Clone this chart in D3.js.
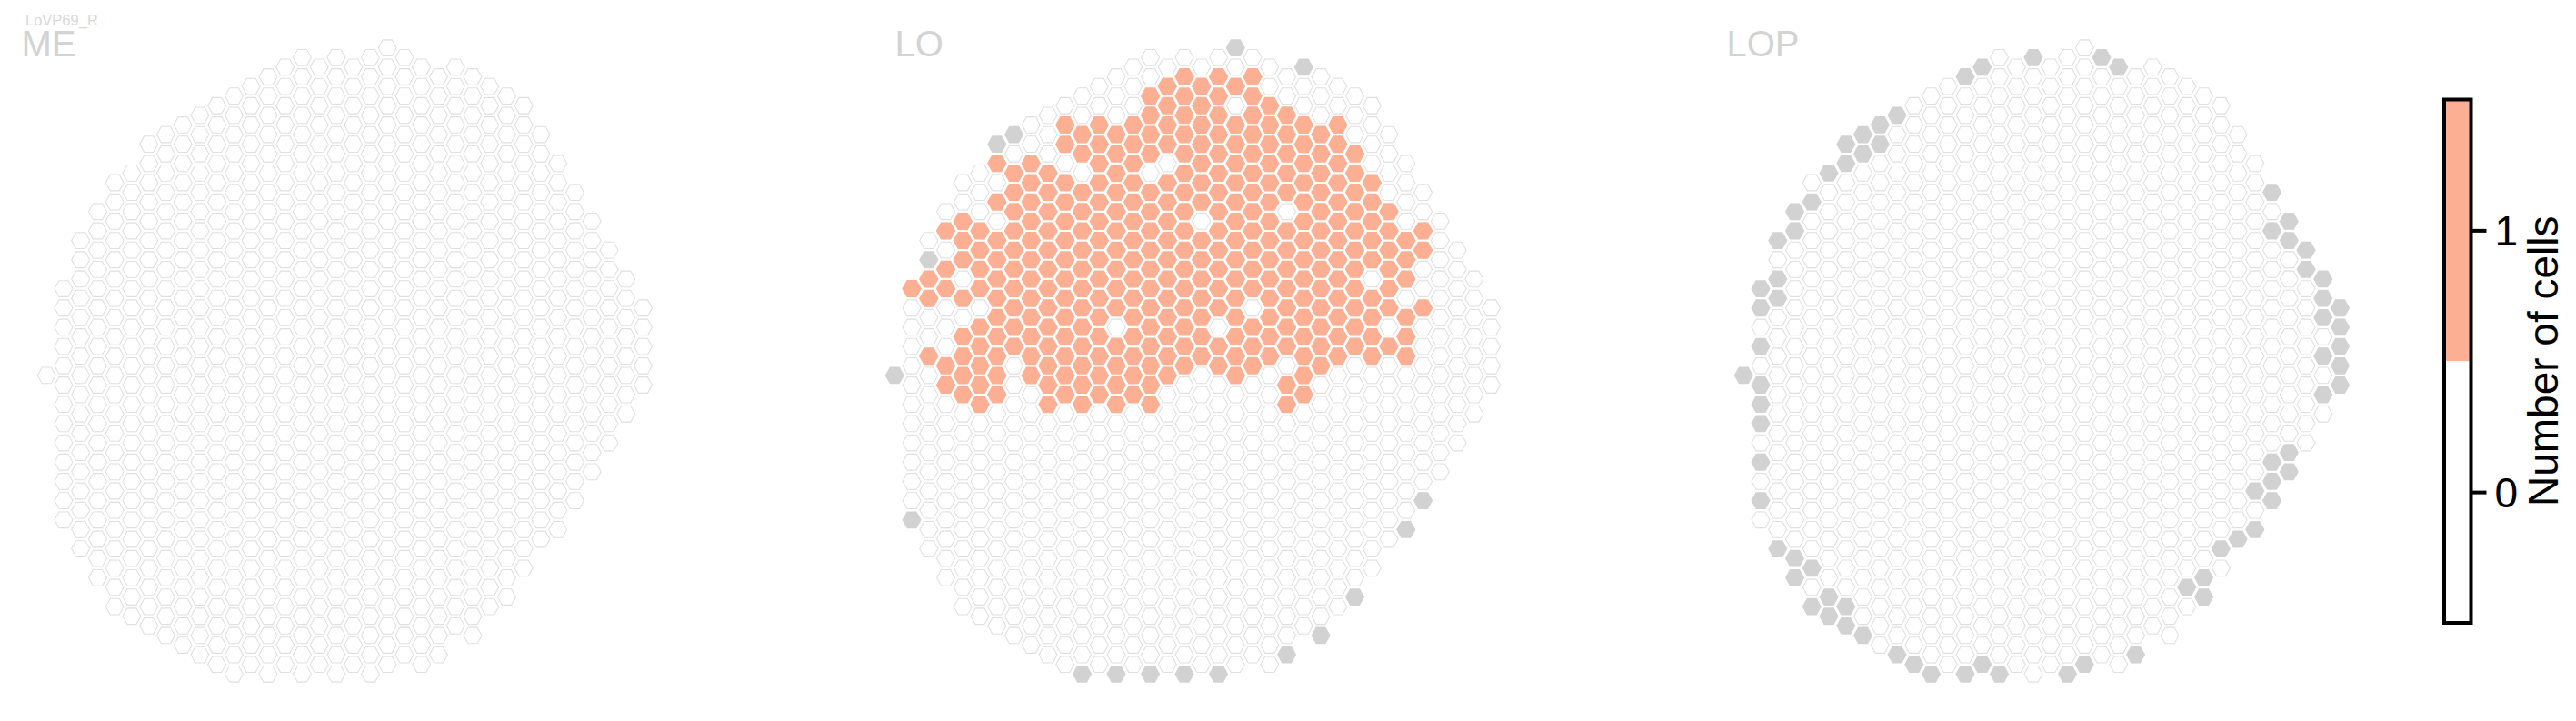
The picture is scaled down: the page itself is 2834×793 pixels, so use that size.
<!DOCTYPE html>
<html>
<head>
<meta charset="utf-8">
<script src="https://cdn.jsdelivr.net/npm/d3@7/dist/d3.min.js"></script>
<style>
html,body{margin:0;padding:0;background:#fff;}
svg{display:block;font-family:"Liberation Sans",Arial,sans-serif;}
</style>
</head>
<body>
<svg id="chart" width="2834" height="793"></svg>
<script>
// Column index 0..35; each column holds rows from top to bottom in steps of 2 half-rows
const columnTop    = [34,25,20,17,14,13,10,9,8,7,6,5,4,3,2,1,2,1,2,1,0,1,2,3,2,3,4,5,6,9,12,15,18,21,24,27];
const columnBottom = [34,49,52,55,58,59,60,61,62,63,64,65,64,65,64,65,64,65,64,65,64,63,64,63,60,61,58,57,54,51,50,47,44,41,38,35];

const panelNames = ["ME","LO","LOP"];
const neuronName = "LoVP69_R";

// LO: [column, firstRow, lastRow] with one cell counted
const loCountRuns = [
 [1,25,25],[2,24,26],[2,32,32],[3,19,19],[3,23,25],[3,33,35],[4,18,22],[4,26,26],[4,30,36],
 [5,19,25],[5,29,37],[6,12,12],[6,16,16],[6,20,36],[7,13,31],[8,12,34],[9,13,37],
 [10,8,10],[10,14,36],[11,9,11],[11,15,37],[12,8,36],[13,9,27],[13,31,37],[14,8,36],
 [15,5,11],[15,15,37],[16,4,10],[16,14,34],[17,3,33],[18,4,16],[18,20,32],[19,3,27],[19,31,33],
 [20,4,4],[20,8,34],[21,3,25],[21,29,33],[22,6,32],[23,7,15],[23,19,31],[23,35,37],[24,8,36],
 [25,9,33],[26,8,32],[27,11,31],[28,14,22],[28,26,32],[29,17,27],[29,31,31],[30,20,24],[30,28,32],
 [31,19,21],[31,27,27]
];
// Grey edge cells [column,row]
const loEdge = [[20,0],[24,2],[7,9],[6,10],[2,22],[0,34],[1,49],[31,47],[30,50],[27,57],[25,61],[23,63],
 [11,65],[13,65],[15,65],[17,65],[19,65]];
const lopEdge = [[17,1],[14,2],[13,3],[21,1],[22,2],[9,7],[8,8],[7,9],[6,10],[8,10],[7,11],[6,12],[5,13],
 [4,16],[3,17],[3,19],[2,20],[2,24],[1,25],[2,26],[1,27],[1,31],[31,15],[32,18],[31,19],[32,20],[33,21],
 [33,23],[34,24],[34,26],[35,27],[34,28],[35,29],[35,31],[34,32],[35,33],[35,35],[34,36],[0,34],[1,35],
 [1,37],[1,39],[1,43],[1,47],[32,42],[31,43],[32,44],[31,45],[30,46],[31,47],[30,50],[29,51],[28,52],
 [27,55],[26,56],[27,57],[23,63],[20,64],[19,65],[15,65],[14,64],[13,65],[11,65],[10,64],[9,63],[7,61],
 [6,60],[5,59],[6,58],[4,58],[5,57],[3,55],[4,54],[3,53],[2,52]];

const colorTicks = [0,1];
const colorTitle = "Number of cells";

const C_COUNT = "#fcaf92", C_EDGE = "#d2d2d2", C_LINE = "#e0e0e0";

const svg = d3.select("#chart");
const panelLeft = [51.2, 984.3, 1918.3];
const titleX = [23.5, 984.5, 1899.5];
const colStep = 18.75, rowStep = 10.594, R = 10.6, Ry = 9.4;
const y = d3.scaleLinear().domain([0,65]).range([52.7, 52.7 + 65*rowStep]);

const hexPts = [[-1,0],[-.5,-1],[.5,-1],[1,0],[.5,1],[-.5,1]];
const hex = (rx,ry) => d3.line()(hexPts.map(p=>[p[0]*rx,p[1]*ry])) + "Z";

const key = (c,k)=>c+"_"+k;
const allCells = columnTop.flatMap((t,c)=>d3.range(t,columnBottom[c]+1,2).map(k=>({c,k})));
const countSet = new Set(loCountRuns.flatMap(([c,a,b])=>d3.range(a,b+1,2).map(k=>key(c,k))));
const loEdgeSet = new Set(loEdge.map(d=>key(d[0],d[1])));
const lopEdgeSet = new Set(lopEdge.map(d=>key(d[0],d[1])));

function state(panel,d){
  const id = key(d.c,d.k);
  if(panel===1){ if(loEdgeSet.has(id)) return "edge"; if(countSet.has(id)) return "count"; }
  if(panel===2){ if(lopEdgeSet.has(id)) return "edge"; }
  return "empty";
}

panelNames.forEach((name,i)=>{
  const x = d3.scaleLinear().domain([0,35]).range([panelLeft[i], panelLeft[i]+35*colStep]);
  const g = svg.append("g");
  g.selectAll("path").data(allCells).join("path")
    .attr("transform",d=>`translate(${x(d.c)},${y(d.k)})`)
    .each(function(d){
      const s = state(i,d), el = d3.select(this);
      if(s==="count") el.attr("d",hex(R+.2,Ry+.1)).attr("fill",C_COUNT).attr("stroke","none");
      else if(s==="edge") el.attr("d",hex(R,Ry)).attr("fill",C_EDGE).attr("stroke","none");
      else el.attr("d",hex(R-.6,Ry-.55)).attr("fill","#fff").attr("stroke",C_LINE).attr("stroke-width",1.1);
    });
  svg.append("text").attr("x",titleX[i]).attr("y",62).attr("font-size",40)
    .attr("fill","#d3d3d3").text(name);
});
svg.append("text").attr("x",28).attr("y",27.5).attr("font-size",16.5).attr("fill","#d9d9d9").text(neuronName);

// Colour bar
const barY = d3.scaleLinear().domain([-0.5,1.5]).range([685,109.5]);
const barL = 2689, barR = 2718.5;
const bar = svg.append("g");
bar.append("rect").attr("x",barL).attr("width",barR-barL).attr("y",barY(1.5)).attr("height",barY(0.5)-barY(1.5)).attr("fill",C_COUNT);
bar.append("rect").attr("x",barL).attr("width",barR-barL).attr("y",barY(0.5)).attr("height",barY(-0.5)-barY(0.5)).attr("fill","#fff");
bar.append("rect").attr("x",barL).attr("width",barR-barL).attr("y",barY(1.5)).attr("height",barY(-0.5)-barY(1.5))
  .attr("fill","none").attr("stroke","#000").attr("stroke-width",4);

const axis = d3.axisRight(barY).tickValues(colorTicks).tickSize(17).tickPadding(9).tickFormat(d3.format("d"));
const ag = svg.append("g").attr("transform",`translate(${barR},0)`).call(axis);
ag.select(".domain").remove();
ag.selectAll("line").attr("stroke","#000").attr("stroke-width",4);
ag.selectAll("text").attr("font-size",46).attr("font-family","Liberation Sans").attr("fill","#000").attr("dy","0.36em");

svg.append("text")
  .attr("transform",`translate(2814,${barY(0.5)}) rotate(-90)`)
  .attr("text-anchor","middle").attr("font-size",46).attr("fill","#000").text(colorTitle);
</script>
</body>
</html>
